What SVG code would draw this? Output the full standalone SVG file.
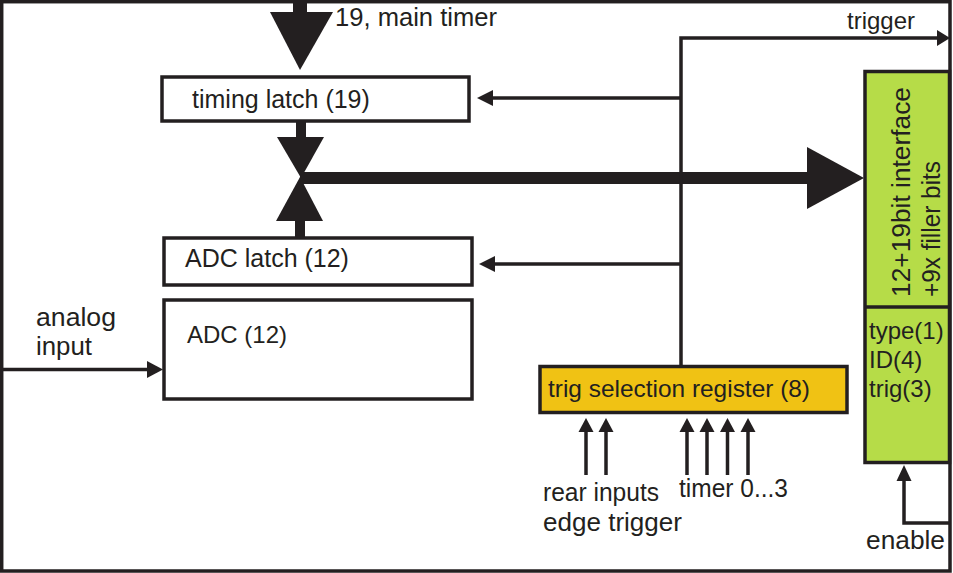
<svg xmlns="http://www.w3.org/2000/svg" width="953" height="573" viewBox="0 0 953 573">
<style>
  text { font-family: "Liberation Sans", Arial, sans-serif; font-size: 25px; fill: #231f20; }
  .s24 { font-size: 24px; }
  .s26 { font-size: 26px; }
  .box { fill: #ffffff; stroke: #231f20; stroke-width: 3.5; }
  .ln { fill: none; stroke: #231f20; stroke-width: 3.5; }
  .ah { fill: #231f20; stroke: none; }
</style>
<rect x="0" y="0" width="953" height="573" fill="#ffffff"/>
<g id="frame">
  <rect x="1.7" y="1.7" width="948.3" height="569.3" fill="none" stroke="#231f20" stroke-width="3.5"/>
</g>
<g id="timing-latch">
  <rect class="box" x="162" y="77" width="307" height="44"/>
  <text x="192" y="108">timing latch (19)</text>
</g>
<g id="adc-latch">
  <rect class="box" x="164" y="238" width="308" height="47"/>
  <text x="185" y="267">ADC latch (12)</text>
</g>
<g id="adc">
  <rect class="box" x="164" y="300" width="308" height="99"/>
  <text x="187" y="343" class="s24">ADC (12)</text>
</g>
<g id="trig-selection-register">
  <rect x="540" y="366.5" width="307" height="46" fill="#f0c214" stroke="#231f20" stroke-width="3.5"/>
  <text x="548" y="397" class="s24" textLength="262" lengthAdjust="spacingAndGlyphs">trig selection register (8)</text>
</g>
<g id="interface">
  <rect x="865" y="71.5" width="84.5" height="391" fill="#b6dc48" stroke="#231f20" stroke-width="3.5"/>
  <line x1="865" y1="307" x2="949.5" y2="307" stroke="#231f20" stroke-width="3.5"/>
  <text transform="translate(910,297) rotate(-90)" class="s26" textLength="210" lengthAdjust="spacingAndGlyphs">12+19bit interface</text>
  <text transform="translate(940,297) rotate(-90)" class="s26" textLength="136" lengthAdjust="spacingAndGlyphs">+9x filler bits</text>
  <text x="869" y="339" class="s24">type(1)</text>
  <text x="869" y="368" class="s24">ID(4)</text>
  <text x="869" y="397" class="s24">trig(3)</text>
</g>
<g id="labels">
  <text x="335" y="26" textLength="162" lengthAdjust="spacingAndGlyphs">19, main timer</text>
  <text x="847" y="29" class="s24">trigger</text>
  <text x="36" y="326" textLength="80" lengthAdjust="spacingAndGlyphs">analog</text>
  <text x="36" y="355" textLength="56" lengthAdjust="spacingAndGlyphs">input</text>
  <text x="543" y="501" textLength="116" lengthAdjust="spacingAndGlyphs">rear inputs</text>
  <text x="543" y="531" textLength="139" lengthAdjust="spacingAndGlyphs">edge trigger</text>
  <text x="679" y="497" textLength="109" lengthAdjust="spacingAndGlyphs">timer 0...3</text>
  <text x="866" y="549" textLength="79" lengthAdjust="spacingAndGlyphs">enable</text>
</g>
<g id="connectors">
  <!-- main timer bus in -->
  <rect class="ah" x="293" y="0" width="14" height="13"/>
  <polygon class="ah" points="270,12 333,12 300,70"/>
  <!-- timing latch down -->
  <rect class="ah" x="296" y="121" width="10" height="17"/>
  <polygon class="ah" points="277,137 324,137 301,178"/>
  <!-- ADC latch up -->
  <rect class="ah" x="295" y="219" width="10" height="19"/>
  <polygon class="ah" points="276,221 323,221 300,177"/>
  <!-- main bus to interface -->
  <rect class="ah" x="300" y="172" width="508" height="12"/>
  <polygon class="ah" points="807,147 807,209 864,178"/>
  <!-- trigger distribution -->
  <polyline class="ln" points="681,366 681,38 937,38"/>
  <polygon class="ah" points="937,30 950,38 937,46"/>
  <line class="ln" x1="681" y1="98" x2="492" y2="98"/>
  <polygon class="ah" points="493,90 477,98 493,106"/>
  <line class="ln" x1="681" y1="264" x2="494" y2="264"/>
  <polygon class="ah" points="495,256 479,264 495,272"/>
  <!-- analog input -->
  <line class="ln" x1="3" y1="369.5" x2="148" y2="369.5"/>
  <polygon class="ah" points="147,361 163,369.5 147,378"/>
  <!-- trigger inputs -->
  <g>
    <line class="ln" x1="586" y1="475" x2="586" y2="430"/>
    <polygon class="ah" points="578.5,432 586,418 593.5,432"/>
    <line class="ln" x1="606" y1="475" x2="606" y2="430"/>
    <polygon class="ah" points="598.5,432 606,418 613.5,432"/>
    <line class="ln" x1="687" y1="475" x2="687" y2="430"/>
    <polygon class="ah" points="679.5,432 687,418 694.5,432"/>
    <line class="ln" x1="707" y1="475" x2="707" y2="430"/>
    <polygon class="ah" points="699.5,432 707,418 714.5,432"/>
    <line class="ln" x1="727.5" y1="475" x2="727.5" y2="430"/>
    <polygon class="ah" points="720,432 727.5,418 735,432"/>
    <line class="ln" x1="748" y1="475" x2="748" y2="430"/>
    <polygon class="ah" points="740.5,432 748,418 755.5,432"/>
  </g>
  <!-- enable -->
  <polyline class="ln" points="950,523 904,523 904,479"/>
  <polygon class="ah" points="896.5,481 904,465 911.5,481"/>
</g>
</svg>
